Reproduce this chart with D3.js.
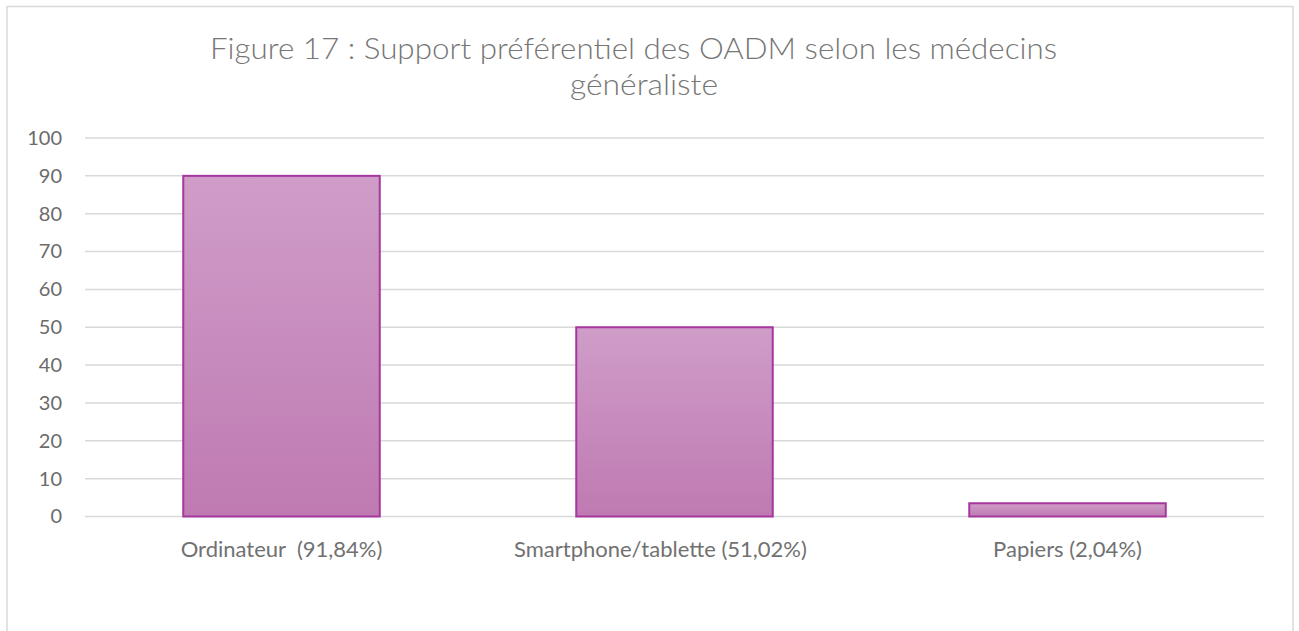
<!DOCTYPE html>
<html>
<head>
<meta charset="utf-8">
<script src="https://cdn.jsdelivr.net/npm/d3@7"></script>
<style>
    body { margin: 0; background: #fff; }
    text { font-family: Lato, "Open Sans", sans-serif; }
</style>
</head>
<body>
<svg width="1299" height="631"></svg>
<script>
// data
let categories = ["Ordinateur  (91,84%)", "Smartphone/tablette (51,02%)     ", "Papiers (2,04%)"];
let values = [90, 50, 3.5];
let yTicks = [0, 10, 20, 30, 40, 50, 60, 70, 80, 90, 100];
let titleLines = ["Figure 17 : Support préférentiel des OADM selon les médecins", "généraliste"];

let svg = d3.select("svg"),
    width = +svg.attr("width"),
    margin = {top: 138, right: 35, bottom: 114.5, left: 85};

// chart frame
svg.append("rect")
    .attr("x", 7)
    .attr("y", 6.5)
    .attr("width", 1286)
    .attr("height", 640)
    .attr("fill", "#fff")
    .attr("stroke", "#d9d9d9")
    .attr("stroke-width", 1.5);

let defs = svg.append("defs");
let grad = defs.append("linearGradient")
    .attr("id", "barGrad")
    .attr("x1", 0).attr("y1", 0)
    .attr("x2", 0).attr("y2", 1);
grad.append("stop").attr("offset", "0%").attr("stop-color", "#cf9dc8");
grad.append("stop").attr("offset", "100%").attr("stop-color", "#bf7ab2");

let x = d3.scaleBand()
    .domain(categories)
    .range([margin.left, 1264])
    .paddingInner(0.5)
    .paddingOuter(0.25);

let y = d3.scaleLinear()
    .domain([0, 100])
    .range([516.5, 138]);

// gridlines
svg.append("g")
    .attr("class", "grid")
    .selectAll("line")
    .data(yTicks)
    .enter().append("line")
    .attr("x1", margin.left)
    .attr("x2", 1264)
    .attr("y1", d => y(d))
    .attr("y2", d => y(d))
    .attr("stroke", "#d9d9d9")
    .attr("stroke-width", 1.5);

// y axis labels
let yAxis = d3.axisLeft(y)
    .tickValues(yTicks)
    .tickSize(0)
    .tickPadding(0);
let gy = svg.append("g")
    .attr("transform", "translate(62,0)")
    .call(yAxis);
gy.select(".domain").remove();
gy.selectAll("text")
    .attr("font-family", "Lato, sans-serif")
    .attr("font-size", 20)
    .attr("fill", "#6b6b6b");

// bars
svg.append("g")
    .selectAll("rect")
    .data(values)
    .enter().append("rect")
    .attr("x", (d, i) => x(categories[i]))
    .attr("y", d => y(d))
    .attr("width", x.bandwidth())
    .attr("height", d => y(0) - y(d))
    .attr("fill", "url(#barGrad)")
    .attr("stroke", "#a5379f")
    .attr("stroke-width", 2);

// x axis labels
let xAxis = d3.axisBottom(x)
    .tickSize(0)
    .tickPadding(0);
let gx = svg.append("g")
    .attr("transform", "translate(0,538)")
    .call(xAxis);
gx.select(".domain").remove();
gx.selectAll("text")
    .attr("dy", 0)
    .attr("y", 19)
    .attr("font-family", "Lato, sans-serif")
    .attr("font-size", 22)
    .attr("fill", "#717171")
    .style("white-space", "pre");

// title
svg.append("g")
    .selectAll("text")
    .data(titleLines)
    .enter().append("text")
    .attr("x", (d, i) => i === 0 ? 633.5 : 644)
    .attr("y", (d, i) => 59 + i * 36)
    .attr("text-anchor", "middle")
    .attr("font-size", 29)
    .attr("font-weight", 300)
    .attr("fill", "#767676")
    .attr("textLength", (d, i) => i === 0 ? 847 : 148)
    .attr("lengthAdjust", "spacingAndGlyphs")
    .text(d => d);
</script>
</body>
</html>
